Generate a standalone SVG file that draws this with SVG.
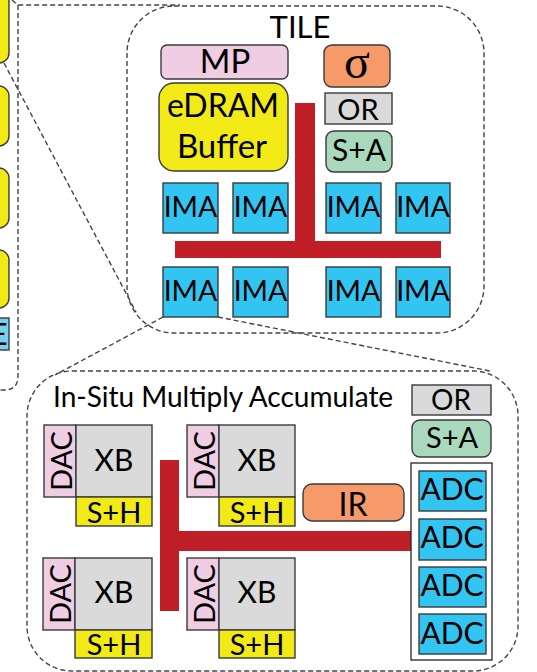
<svg xmlns="http://www.w3.org/2000/svg" width="537" height="672" viewBox="0 0 537 672">
  <style>
    .t { font-family: Lato, "Open Sans", "DejaVu Sans", sans-serif; fill: #000; text-anchor: middle; }
    .box { stroke: #3a3a3a; stroke-width: 1.4; }
    .dash { fill: none; stroke: #444; stroke-width: 1.4; stroke-dasharray: 5 3; }
    .pink { fill: #EFCDE2; }
    .yellow { fill: #F2EA16; }
    .orange { fill: #F79A6A; }
    .gray { fill: #DADADA; }
    .green { fill: #A9D8BC; }
    .blue { fill: #33C5F2; }
    .bus { fill: #C01F27; }
  </style>

  <!-- chip edge (partially visible) -->
  <g id="chip">
    <rect class="box yellow" x="-20" y="-12" width="29" height="75" rx="10"/>
    <rect class="box yellow" x="-20" y="86" width="29" height="60" rx="10"/>
    <rect class="box yellow" x="-20" y="168" width="29" height="60" rx="10"/>
    <rect class="box yellow" x="-20" y="250" width="29" height="58" rx="10"/>
    <rect class="box" fill="#78D0F0" x="-20" y="318" width="29" height="32"/>
    <text class="t" x="-1" y="345" font-size="30">E</text>
  </g>

  <!-- zoom callouts and group outlines -->
  <g id="connectors">
    <path class="dash" d="M18,5 V376 Q18,390 4,390 H-10"/>
    <path class="dash" d="M12,0 L18,5 H180"/>
    <path class="dash" d="M4,63 L136,312"/>
    <path class="dash" d="M163,317 L55,375"/>
    <path class="dash" d="M218,317 L490,371"/>
  </g>

  <!-- TILE -->
  <g id="tile">
    <rect class="dash" x="127" y="6" width="357" height="327" rx="47"/>
    <text class="t" x="300" y="38" font-size="31">TILE</text>
  </g>
  <g id="tile-bus">
    <rect class="bus" x="295" y="103" width="20" height="150"/>
    <rect class="bus" x="175" y="241" width="266" height="17"/>
  </g>
  <g id="mp">
    <rect class="box pink" x="161" y="45" width="127" height="34" rx="6"/>
    <text class="t" x="225" y="73" font-size="33">MP</text>
  </g>
  <g id="edram">
    <rect class="box yellow" x="159" y="83" width="129" height="88" rx="15"/>
    <text class="t" x="223" y="117" font-size="32">eDRAM</text>
    <text class="t" x="222" y="158" font-size="33">Buffer</text>
  </g>
  <g id="sigma">
    <rect class="box orange" x="324" y="45" width="66" height="42" rx="8"/>
    <text class="t" x="357" y="78" font-size="48" style="font-family:'Liberation Serif','DejaVu Serif',serif">σ</text>
  </g>
  <g id="tile-or">
    <rect class="box gray" x="325" y="93" width="67" height="31"/>
    <text class="t" x="358" y="120" font-size="29">OR</text>
  </g>
  <g id="tile-sa">
    <rect class="box green" x="326" y="131" width="66" height="41" rx="8"/>
    <text class="t" x="359" y="161" font-size="30">S+A</text>
  </g>
  <g id="ima-1"><rect class="box blue" x="163" y="183" width="55" height="50"/><text class="t" x="190.5" y="217" font-size="28.5">IMA</text></g>
  <g id="ima-2"><rect class="box blue" x="233" y="183" width="55" height="50"/><text class="t" x="260.5" y="217" font-size="28.5">IMA</text></g>
  <g id="ima-3"><rect class="box blue" x="326" y="183" width="55" height="50"/><text class="t" x="353.5" y="217" font-size="28.5">IMA</text></g>
  <g id="ima-4"><rect class="box blue" x="396" y="183" width="54" height="50"/><text class="t" x="423" y="217" font-size="28.5">IMA</text></g>
  <g id="ima-5"><rect class="box blue" x="163" y="267" width="55" height="50"/><text class="t" x="190.5" y="301" font-size="28.5">IMA</text></g>
  <g id="ima-6"><rect class="box blue" x="233" y="267" width="55" height="50"/><text class="t" x="260.5" y="301" font-size="28.5">IMA</text></g>
  <g id="ima-7"><rect class="box blue" x="326" y="267" width="55" height="50"/><text class="t" x="353.5" y="301" font-size="28.5">IMA</text></g>
  <g id="ima-8"><rect class="box blue" x="396" y="267" width="54" height="50"/><text class="t" x="423" y="301" font-size="28.5">IMA</text></g>

  <!-- In-Situ Multiply Accumulate -->
  <g id="isma">
    <rect class="dash" x="27" y="371" width="491" height="300" rx="45"/>
    <text class="t" x="53" y="407" font-size="28" style="text-anchor:start">In-Situ Multiply Accumulate</text>
  </g>
  <g id="isma-bus">
    <rect class="bus" x="160" y="460" width="19" height="151"/>
    <rect class="bus" x="179" y="531" width="233" height="20"/>
  </g>
  <g id="xb-1">
    <rect class="box pink" x="44" y="425" width="32" height="72"/>
    <rect class="box gray" x="76" y="425" width="76" height="72"/>
    <rect class="box yellow" x="76" y="497" width="76" height="29"/>
    <text class="t" x="114" y="471" font-size="30">XB</text>
    <text class="t" x="114" y="523" font-size="29">S+H</text>
    <text class="t" font-size="29" transform="translate(72,461) rotate(-90)">DAC</text>
  </g>
  <g id="xb-2">
    <rect class="box pink" x="187" y="425" width="32" height="72"/>
    <rect class="box gray" x="219" y="425" width="76" height="72"/>
    <rect class="box yellow" x="219" y="497" width="76" height="29"/>
    <text class="t" x="257" y="471" font-size="30">XB</text>
    <text class="t" x="257" y="523" font-size="29">S+H</text>
    <text class="t" font-size="29" transform="translate(215,461) rotate(-90)">DAC</text>
  </g>
  <g id="xb-3">
    <rect class="box pink" x="43" y="558" width="32" height="72"/>
    <rect class="box gray" x="75" y="558" width="77" height="72"/>
    <rect class="box yellow" x="75" y="630" width="77" height="28"/>
    <text class="t" x="114" y="603" font-size="30">XB</text>
    <text class="t" x="114" y="655" font-size="29">S+H</text>
    <text class="t" font-size="29" transform="translate(71,594) rotate(-90)">DAC</text>
  </g>
  <g id="xb-4">
    <rect class="box pink" x="187" y="558" width="32" height="72"/>
    <rect class="box gray" x="219" y="558" width="76" height="72"/>
    <rect class="box yellow" x="219" y="630" width="76" height="28"/>
    <text class="t" x="257" y="603" font-size="30">XB</text>
    <text class="t" x="257" y="655" font-size="29">S+H</text>
    <text class="t" font-size="29" transform="translate(215,594) rotate(-90)">DAC</text>
  </g>
  <g id="ir">
    <rect class="box orange" x="303" y="484" width="101" height="37" rx="9"/>
    <text class="t" x="353" y="516" font-size="32">IR</text>
  </g>
  <g id="isma-or">
    <rect class="box gray" x="412" y="385" width="79" height="30"/>
    <text class="t" x="451" y="410" font-size="28">OR</text>
  </g>
  <g id="isma-sa">
    <rect class="box green" x="412" y="420" width="79" height="37" rx="8"/>
    <text class="t" x="452" y="448" font-size="29">S+A</text>
  </g>
  <g id="adc-bank">
    <rect fill="#fff" stroke="#222" stroke-width="1.3" x="411" y="463" width="81" height="197"/>
    <rect class="box blue" x="419" y="471" width="67" height="40"/>
    <rect class="box blue" x="419" y="519" width="67" height="41"/>
    <rect class="box blue" x="419" y="567" width="67" height="40"/>
    <rect class="box blue" x="419" y="614" width="67" height="40"/>
    <text class="t" x="452" y="500" font-size="30">ADC</text>
    <text class="t" x="452" y="548" font-size="30">ADC</text>
    <text class="t" x="452" y="596" font-size="30">ADC</text>
    <text class="t" x="452" y="644" font-size="30">ADC</text>
  </g>
</svg>
